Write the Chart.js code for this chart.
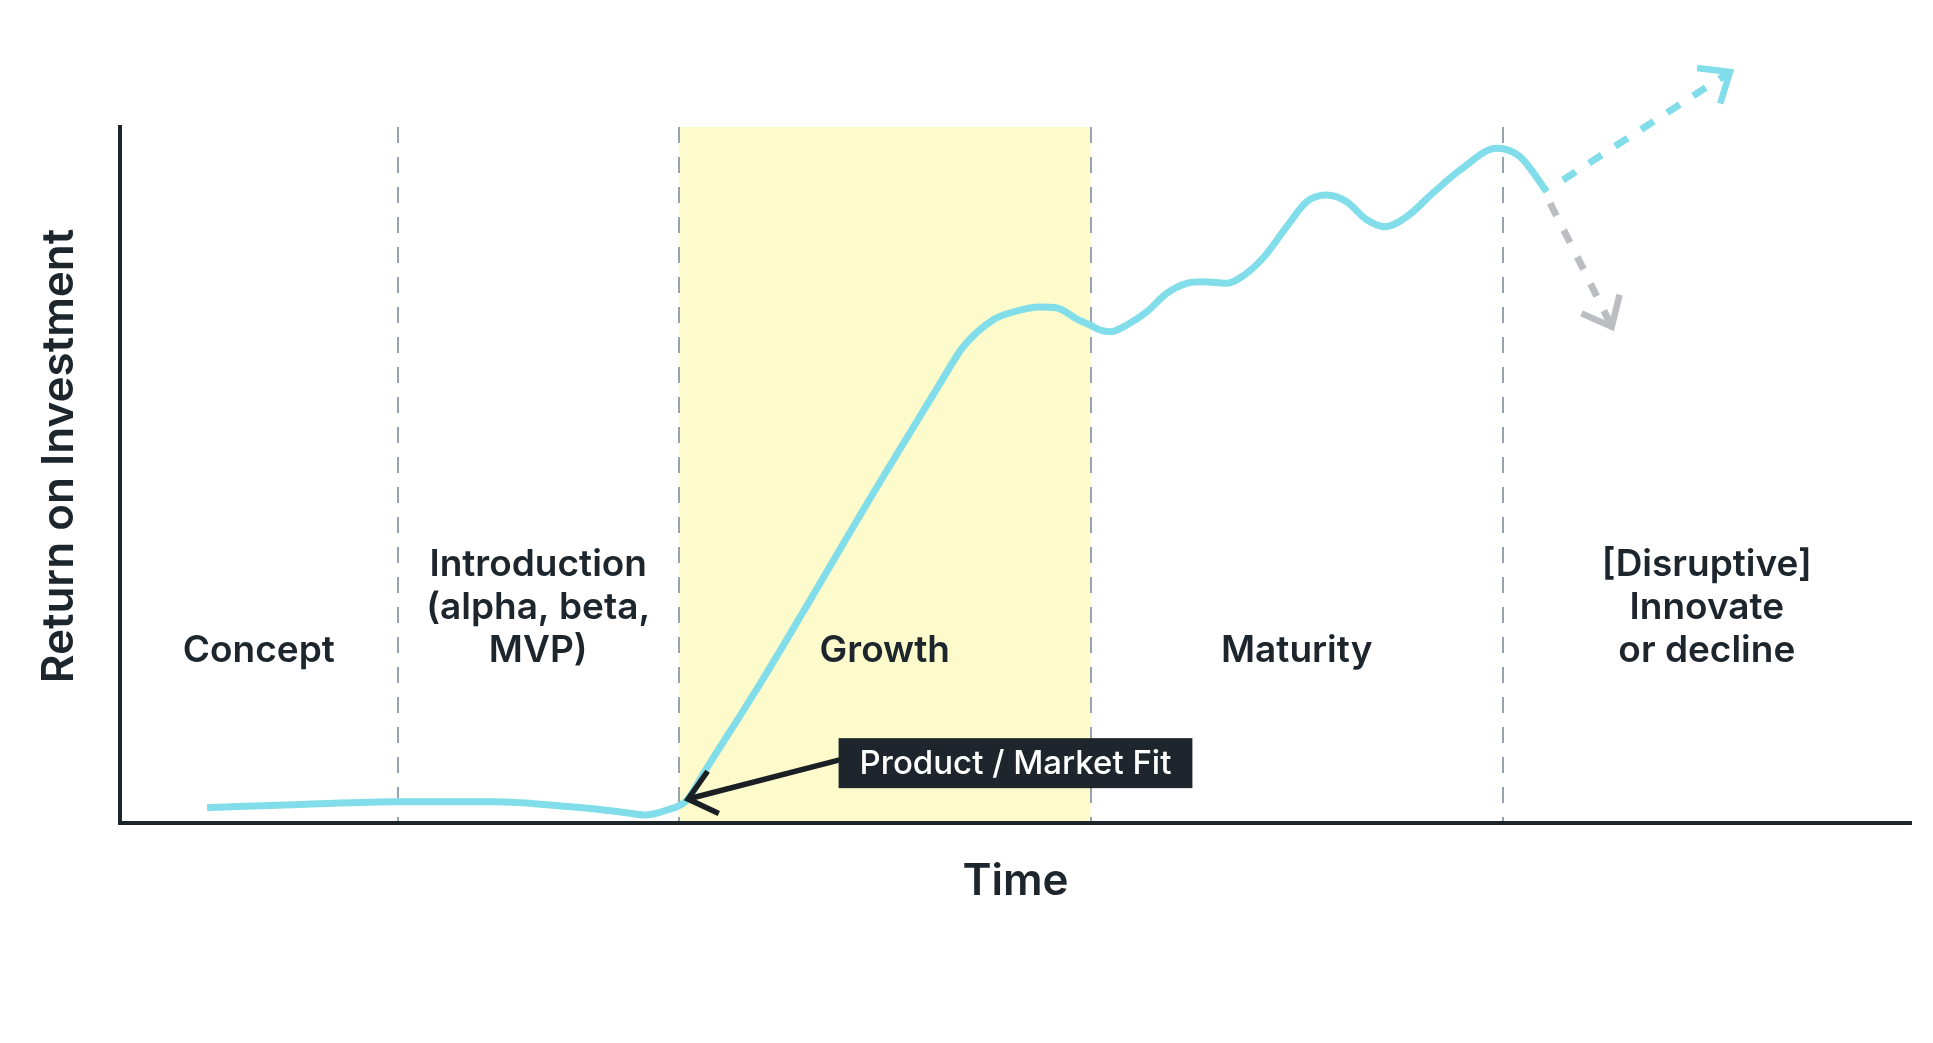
<!DOCTYPE html>
<html>
<head>
<meta charset="utf-8">
<script src="https://cdn.jsdelivr.net/npm/chart.js@4.4.0/dist/chart.umd.min.js"></script>
<style>
  html, body { margin: 0; padding: 0; background: #fff; overflow: hidden; }
  #wrap { width: 1933px; height: 1043px; }
</style>
</head>
<body>
<div id="wrap"><canvas id="lifecycleChart" width="1933" height="1043"></canvas></div>
<script>
// stages along the time axis (0-100)
const stageNames = [
    ['Concept'],
    ['Introduction', '(alpha, beta,', 'MVP)'],
    ['Growth'],
    ['Maturity'],
    ['[Disruptive]', 'Innovate', 'or decline']
];
const stageBounds = [0, 15.5, 31.2, 54.2, 77.2, 100];
const growthStage = 2;

// return on investment curve
const roiX = [4.86, 10.05, 15.58, 20.88, 25.18, 26.80, 28.36, 29.26, 30.54, 31.66,
    32.66, 35.73, 42.43, 45.78, 47.07, 48.74, 49.86, 51.37, 52.32, 53.43,
    54.16, 54.72, 55.28, 56.21, 57.33, 58.44, 59.56, 60.47, 61.79, 62.53,
    63.82, 65.14, 66.26, 67.38, 68.49, 69.61, 70.63, 71.84, 73.31, 74.82,
    76.87, 78.17, 79.66];
const roiY = [2.20, 2.66, 3.06, 3.06, 2.34, 1.94, 1.44, 1.15, 1.87, 3.30,
    7.47, 19.97, 48.99, 63.13, 68.39, 72.27, 73.42, 74.14, 74.00, 72.41,
    71.55, 70.83, 70.59, 71.55, 73.46, 76.11, 77.54, 77.77, 77.54, 78.30,
    81.18, 85.68, 89.27, 90.23, 89.27, 86.67, 85.68, 87.11, 90.52, 93.82,
    96.94, 95.73, 90.71];
const fitIndex = 9;
const fitLabel = 'Product / Market Fit';

// two possible futures
const innovateX = [80.57, 89.89];
const innovateY = [92.39, 107.90];
const declineX = [79.85, 81.57, 83.29];
const declineY = [89.04, 80.30, 71.31];

const ink = '#1d252d';
const cyan = '#81dde9';
const grey = '#bcbdc1';
const font = 'Inter, "Open Sans", sans-serif';

function toPoints(xs, ys) {
    return xs.map(function (v, i) { return { x: v, y: ys[i] }; });
}

function drawArrowHead(ctx, tipX, tipY, fromX, fromY, len, spread) {
    const ang = Math.atan2(fromY - tipY, fromX - tipX);
    ctx.beginPath();
    ctx.moveTo(tipX + len * Math.cos(ang - spread), tipY + len * Math.sin(ang - spread));
    ctx.lineTo(tipX, tipY);
    ctx.lineTo(tipX + len * Math.cos(ang + spread), tipY + len * Math.sin(ang + spread));
    ctx.stroke();
}

const lifecyclePlugin = {
    id: 'lifecycle',
    beforeDraw: function (chart) {
        const ctx = chart.ctx;
        const a = chart.chartArea;
        const x = chart.scales.x;
        ctx.save();
        ctx.fillStyle = '#fff';
        ctx.fillRect(0, 0, chart.width, chart.height);

        const g0 = x.getPixelForValue(stageBounds[growthStage]);
        const g1 = x.getPixelForValue(stageBounds[growthStage + 1]);
        ctx.fillStyle = '#fdfbcb';
        ctx.fillRect(g0, a.top, g1 - g0, a.bottom - a.top);

        ctx.strokeStyle = '#97a3ae';
        ctx.lineWidth = 2;
        ctx.setLineDash([16, 14]);
        stageBounds.slice(1, -1).forEach(function (v) {
            const px = Math.round(x.getPixelForValue(v));
            ctx.beginPath();
            ctx.moveTo(px, a.top);
            ctx.lineTo(px, a.bottom);
            ctx.stroke();
        });
        ctx.restore();
    },
    afterDatasetsDraw: function (chart) {
        const ctx = chart.ctx;
        const a = chart.chartArea;
        const x = chart.scales.x;
        const y = chart.scales.y;
        ctx.save();

        // stage names
        ctx.fillStyle = ink;
        ctx.font = '600 37px ' + font;
        ctx.textAlign = 'center';
        ctx.textBaseline = 'middle';
        const lastLine = y.getPixelForValue(24.78);
        stageNames.forEach(function (lines, i) {
            const cx = x.getPixelForValue((stageBounds[i] + stageBounds[i + 1]) / 2);
            lines.forEach(function (t, j) {
                ctx.fillText(t, cx, lastLine - (lines.length - 1 - j) * 43);
            });
        });

        // arrow heads on the dashed futures
        ctx.setLineDash([]);
        ctx.lineJoin = 'miter';
        ctx.lineCap = 'butt';
        chart.data.datasets.forEach(function (ds, i) {
            if (!ds.arrow) return;
            const pts = chart.getDatasetMeta(i).data;
            const tip = pts[pts.length - 1];
            const from = pts[pts.length - 2];
            ctx.strokeStyle = ds.borderColor;
            ctx.lineWidth = 6.5;
            drawArrowHead(ctx, tip.x, tip.y, from.x, from.y, 33, 40 * Math.PI / 180);
        });

        // product / market fit callout
        ctx.font = '500 33px ' + font;
        const tw = ctx.measureText(fitLabel).width;
        const bw = tw + 42;
        const bh = 50;
        const bx = (a.left + a.right) / 2 - bw / 2;
        const by = y.getPixelForValue(8.6) - bh / 2;
        const fit = chart.getDatasetMeta(0).data[fitIndex];
        ctx.strokeStyle = '#1a1f24';
        ctx.lineWidth = 5.5;
        ctx.beginPath();
        ctx.moveTo(bx + 4, by + 21);
        ctx.lineTo(fit.x + 1, fit.y - 1);
        ctx.stroke();
        drawArrowHead(ctx, fit.x + 1, fit.y - 1, bx, by + 21, 34, 40 * Math.PI / 180);
        ctx.fillStyle = '#1e252d';
        ctx.fillRect(bx, by, bw, bh);
        ctx.fillStyle = '#fff';
        ctx.fillText(fitLabel, bx + bw / 2, by + bh / 2 + 1);

        // axis titles
        ctx.fillStyle = ink;
        ctx.font = '600 44px ' + font;
        ctx.fillText('Time', (a.left + a.right) / 2, 881.5);
        ctx.translate(60, 456);
        ctx.rotate(-Math.PI / 2);
        ctx.fillText('Return on Investment', 0, 0);
        ctx.restore();
    }
};

new Chart(document.getElementById('lifecycleChart'), {
    type: 'line',
    data: {
        datasets: [{
            data: toPoints(roiX, roiY),
            borderColor: cyan,
            borderWidth: 7,
            cubicInterpolationMode: 'monotone',
            pointRadius: 0,
            clip: false
        }, {
            data: toPoints(innovateX, innovateY),
            borderColor: cyan,
            borderWidth: 7,
            borderDash: [15, 16],
            borderCapStyle: 'butt',
            pointRadius: 0,
            arrow: true,
            clip: false
        }, {
            data: toPoints(declineX, declineY),
            borderColor: grey,
            borderWidth: 7,
            borderDash: [14, 16],
            borderCapStyle: 'butt',
            pointRadius: 0,
            arrow: true,
            clip: false
        }]
    },
    options: {
        responsive: false,
        animation: false,
        events: [],
        layout: { padding: { top: 127, right: 22, left: 0, bottom: 0 } },
        plugins: { legend: { display: false }, tooltip: { enabled: false } },
        scales: {
            x: {
                type: 'linear',
                min: 0,
                max: 100,
                grid: { display: false },
                ticks: { display: false },
                border: { display: true, color: ink, width: 4 },
                afterFit: function (s) { s.height = 220; }
            },
            y: {
                min: 0,
                max: 100,
                grid: { display: false },
                ticks: { display: false },
                border: { display: true, color: ink, width: 4 },
                afterFit: function (s) { s.width = 120; }
            }
        }
    },
    plugins: [lifecyclePlugin]
});
</script>
</body>
</html>
